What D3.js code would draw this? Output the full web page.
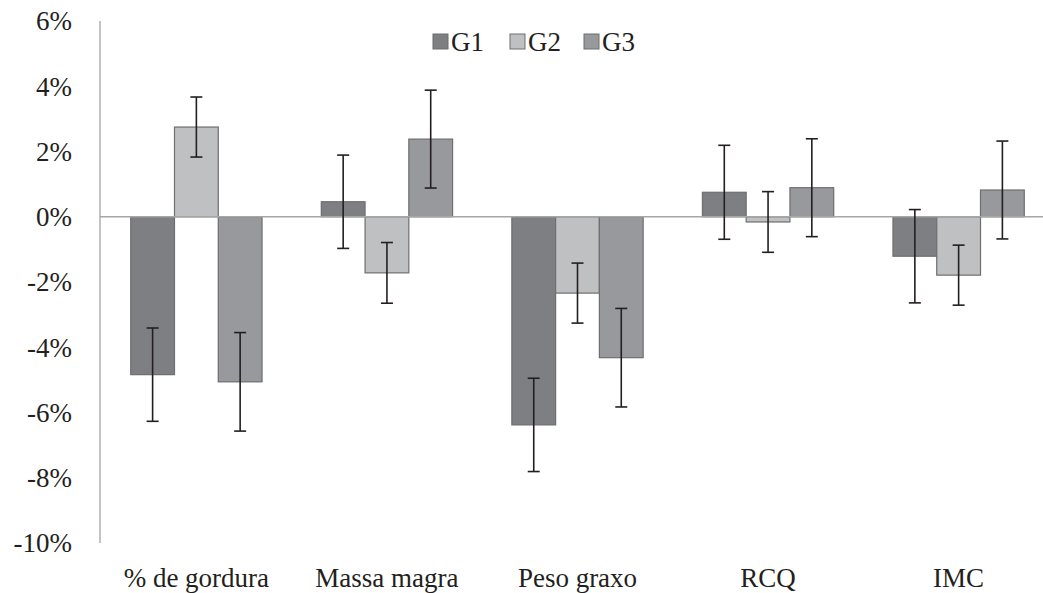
<!DOCTYPE html>
<html>
<head>
<meta charset="utf-8">
<script src="https://cdn.jsdelivr.net/npm/d3@7"></script>
<style>
    body { margin: 0; background: #fff; }
    svg text { font-family: "Liberation Serif", "Times New Roman", Tinos, "DejaVu Serif", serif; }
</style>
</head>
<body>
<div id="chart"></div>
<script>
// data (values in %)
const categories = ["% de gordura", "Massa magra", "Peso graxo", "RCQ", "IMC"];
const seriesNames = ["G1", "G2", "G3"];
const g1 = [-4.84, 0.46, -6.38, 0.75, -1.21];
const g2 = [2.75, -1.72, -2.34, -0.16, -1.79];
const g3 = [-5.06, 2.38, -4.32, 0.89, 0.82];
const g1Err = [1.43, 1.43, 1.43, 1.44, 1.43];
const g2Err = [0.92, 0.93, 0.92, 0.93, 0.92];
const g3Err = [1.51, 1.50, 1.51, 1.50, 1.50];
const yTicks = [6, 4, 2, 0, -2, -4, -6, -8, -10];

const colors = ["#7e7f82", "#bfc0c2", "#98999c"];
const FONT = '"Liberation Serif", "Times New Roman", Tinos, "DejaVu Serif", serif';

function drawChart() {
    const width = 1043, height = 593;

    const svg = d3.select("#chart")
        .append("svg")
        .attr("width", width)
        .attr("height", height)
        .attr("font-family", FONT);

    const x = d3.scaleBand()
        .domain(categories)
        .range([101, 1054])
        .paddingInner(0.311)
        .paddingOuter(0.156);

    const xSub = d3.scaleBand()
        .domain(seriesNames)
        .range([0, x.bandwidth()]);

    const y = d3.scaleLinear()
        .domain([-10, 6])
        .range([543, 21]);

    // y axis labels
    svg.append("g")
        .selectAll("text")
        .data(yTicks)
        .join("text")
        .attr("x", 72)
        .attr("y", d => y(d))
        .attr("dy", "0.35em")
        .attr("text-anchor", "end")
        .attr("font-family", FONT)
        .attr("font-size", 27)
        .attr("fill", "#231f20")
        .text(d => d + "%");

    // y axis line
    svg.append("line")
        .attr("x1", 100).attr("x2", 100)
        .attr("y1", y(6)).attr("y2", y(-10))
        .attr("stroke", "#a3a3a3")
        .attr("stroke-width", 1.3);

    const rows = [];
    const values = [g1, g2, g3];
    const errs = [g1Err, g2Err, g3Err];
    categories.forEach((c, i) => {
        seriesNames.forEach((s, j) => {
            rows.push({cat: c, series: s, idx: j, value: values[j][i], err: errs[j][i]});
        });
    });

    // bars
    svg.append("g")
        .selectAll("rect")
        .data(rows)
        .join("rect")
        .attr("x", d => x(d.cat) + xSub(d.series))
        .attr("width", xSub.bandwidth())
        .attr("y", d => y(Math.max(0, d.value)))
        .attr("height", d => Math.abs(y(d.value) - y(0)))
        .attr("fill", d => colors[d.idx])
        .attr("stroke", "#6e6e70")
        .attr("stroke-width", 1.2);

    // zero line
    svg.append("line")
        .attr("x1", 100).attr("x2", width)
        .attr("y1", y(0)).attr("y2", y(0))
        .attr("stroke", "#a6a6a6")
        .attr("stroke-width", 1.5);

    // error bars
    const eb = svg.append("g")
        .attr("stroke", "#231f20")
        .attr("stroke-width", 1.6);
    rows.forEach(d => {
        const cx = x(d.cat) + xSub(d.series) + xSub.bandwidth() / 2;
        const top = y(d.value + d.err), bot = y(d.value - d.err);
        eb.append("line").attr("x1", cx).attr("x2", cx).attr("y1", top).attr("y2", bot);
        eb.append("line").attr("x1", cx - 6).attr("x2", cx + 6).attr("y1", top).attr("y2", top);
        eb.append("line").attr("x1", cx - 6).attr("x2", cx + 6).attr("y1", bot).attr("y2", bot);
    });

    // category labels
    svg.append("g")
        .selectAll("text")
        .data(categories)
        .join("text")
        .attr("x", d => x(d) + x.bandwidth() / 2)
        .attr("y", 587)
        .attr("text-anchor", "middle")
        .attr("font-family", FONT)
        .attr("font-size", 27)
        .attr("fill", "#231f20")
        .text(d => d);

    // legend
    const legendX = [433, 510, 584];
    const legend = svg.append("g");
    seriesNames.forEach((s, j) => {
        legend.append("rect")
            .attr("x", legendX[j])
            .attr("y", 34)
            .attr("width", 15)
            .attr("height", 15)
            .attr("fill", colors[j])
            .attr("stroke", "#6e6e70")
            .attr("stroke-width", 1);
        legend.append("text")
            .attr("x", legendX[j] + 18)
            .attr("y", 51)
            .attr("font-family", FONT)
            .attr("font-size", 27)
            .attr("fill", "#231f20")
            .text(s);
    });
}

drawChart();
</script>
</body>
</html>
